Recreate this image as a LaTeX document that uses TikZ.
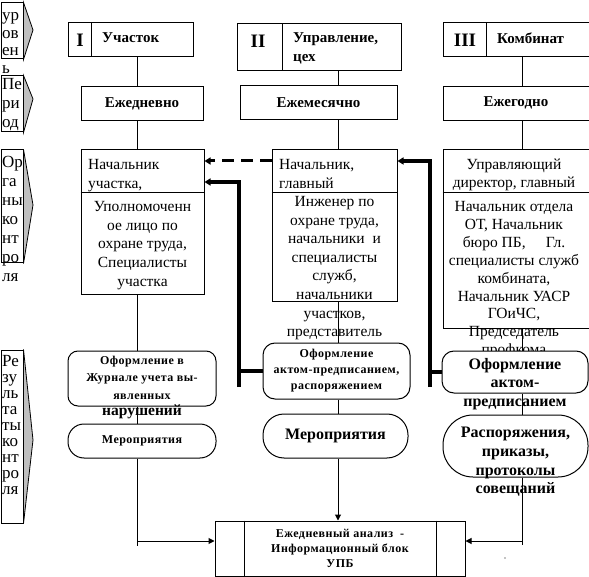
\documentclass[tikz,border=0pt]{standalone}
\usepackage{fontspec}
\setmainfont{Liberation Serif}
\newfontfamily\spb[LetterSpace=4]{Liberation Serif}
\usetikzlibrary{arrows.meta}
\newcommand{\fst}{\rule{0pt}{0.7em}}
\tikzset{
  box/.style={draw, line width=1pt, fill=white, inner sep=0pt},
  rbox/.style={draw, line width=1pt, fill=white, inner sep=0pt, rounded corners=#1},
  tri/.style={draw, line width=0.8pt, fill=black!25},
  lvtxt/.style={anchor=north west, align=left, inner sep=0pt},
  btxt/.style={anchor=north, align=center, inner sep=0pt},
  hdr/.style={inner sep=0pt, font=\bfseries\fontsize{15}{19}\selectfont},
  roman/.style={inner sep=0pt, font=\bfseries\fontsize{19}{19}\selectfont},
  conn/.style={line width=1pt},
  tip/.style={-{Triangle[length=6pt,width=6pt]}},
  thk/.style={line width=3.5pt},
  thktip/.style={-{Triangle[length=6pt,width=7pt]}},
}
\begin{document}
\begin{tikzpicture}[x=1pt,y=-1pt]
\clip (0,0) rectangle (589,577);
\fill[white] (0,0) rectangle (589,577);

% ---------- level markers ----------
\node[box, minimum width=22pt, minimum height=56pt] (lv1) at (12,31) {};
\filldraw[tri] (lv1.north east) -- (33,30) -- (lv1.south east) -- cycle;
\node[lvtxt, font=\fontsize{17}{17.5}\selectfont] (lv1t) at (2,8.5) {\fst ур\\ов\\ен\\ь};

\node[box, minimum width=22pt, minimum height=56pt] (lv2) at (12,104) {};
\filldraw[tri] (lv2.north east) -- (33,99) -- (lv2.south east) -- cycle;
\node[lvtxt, font=\fontsize{17}{19}\selectfont] (lv2t) at (2,77.5) {\fst Пе\\ри\\од};

\node[box, minimum width=22pt, minimum height=113pt] (lv3) at (12,206.5) {};
\filldraw[tri] (lv3.north east) -- (33,205) -- (lv3.south east) -- cycle;
\node[lvtxt, font=\fontsize{17}{19}\selectfont] (lv3t) at (2,155.5) {\fst Ор\\га\\ны\\ко\\нт\\ро\\ля};

\node[box, minimum width=22pt, minimum height=173pt] (lv4) at (12,436.5) {};
\filldraw[tri] (lv4.north east) -- (33,440) -- (lv4.south east) -- cycle;
\node[lvtxt, font=\fontsize{17}{16}\selectfont] (lv4t) at (2,354.5) {\fst Ре\\зу\\ль\\та\\ты\\ко\\нт\\ро\\ля};

% ---------- column headers ----------
\node[box, minimum width=125pt, minimum height=34pt] (hI) at (130.5,40) {};
\draw[conn] ([xshift=24pt]hI.north west) -- ([xshift=24pt]hI.south west);
\node[roman] (hIn) at (80,40) {I};
\node[hdr, anchor=west] (hIt) at (102,38) {Участок};

\node[box, minimum width=164pt, minimum height=47pt] (hII) at (319,47.5) {};
\draw[conn] ([xshift=46pt]hII.north west) -- ([xshift=46pt]hII.south west);
\node[roman] (hIIn) at (258,41) {II};
\node[hdr, lvtxt] (hIIt) at (293,31.7) {\fst Управление,\\цех};

\node[box, minimum width=157pt, minimum height=34pt] (hIII) at (521.5,40) {};
\draw[conn] ([xshift=44pt]hIII.north west) -- ([xshift=44pt]hIII.south west);
\node[roman] (hIIIn) at (465,40) {III};
\node[hdr, anchor=west] (hIIIt) at (497,38) {Комбинат};

% ---------- period boxes ----------
\node[box, hdr, minimum width=122pt, minimum height=34pt] (dI) at (142,104) {Ежедневно};
\node[box, hdr, minimum width=157pt, minimum height=34pt] (dII) at (318.5,103) {Ежемесячно};
\node[box, minimum width=157pt, minimum height=34pt] (dIII) at (521.5,104) {};
\node[hdr] (dIIIt) at (516,103) {Ежегодно};

% ---------- control bodies ----------
\node[box, minimum width=123pt, minimum height=145pt] (r3a) at (142.5,222.5) {};
\draw[conn] ([yshift=-43pt]r3a.north west) -- ([yshift=-43pt]r3a.north east);
\node[lvtxt, font=\fontsize{15.5}{18.5}\selectfont] (r3au) at (88,158.5) {\fst Начальник\\участка,};
\node[btxt, font=\fontsize{15.5}{18.7}\selectfont] (r3al) at (142.5,200.5)
  {\fst Уполномоченн\\ое лицо по\\охране труда,\\Специалисты\\участка};

\node[box, minimum width=125pt, minimum height=152pt] (r3b) at (334.5,226) {};
\draw[conn] ([yshift=-43pt]r3b.north west) -- ([yshift=-43pt]r3b.north east);
\node[lvtxt, font=\fontsize{15.5}{18.5}\selectfont] (r3bu) at (279,158.5) {\fst Начальник,\\главный};
\node[btxt, font=\fontsize{15.5}{18.6}\selectfont] (r3bl) at (334.5,195.5)
  {\fst Инженер по\\охране труда,\\начальники\ \ и\\специалисты\\служб,\\начальники\\участков,\\представитель};

\node[box, minimum width=157pt, minimum height=179pt] (r3c) at (521.5,239.5) {};
\draw[conn] ([yshift=-43pt]r3c.north west) -- ([yshift=-43pt]r3c.north east);
\node[btxt, font=\fontsize{15.5}{17.5}\selectfont] (r3cu) at (514,158.5) {\fst Управляющий\\директор, главный};
\node[btxt, font=\fontsize{15.5}{17.9}\selectfont] (r3cl) at (514,200.5)
  {\fst Начальник отдела\\ОТ, Начальник\\бюро ПБ,\hspace{1.3em}Гл.\\специалисты служб\\комбината,\\Начальник УАСР\\ГОиЧС,\\Председатель\\профкома};

% ---------- vertical connectors ----------
\coordinate (cI) at (137,0);
\coordinate (cII) at (338,0);
\coordinate (cIII) at (522,0);
\coordinate (jI) at (137,546);
\coordinate (jIII) at (522,545);

% ---------- results ----------
\node[rbox=10pt, minimum width=148pt, minimum height=55pt] (res1) at (142,378.5) {};
\node[rbox=16pt, minimum width=148pt, minimum height=34pt,
      font=\spb\bfseries\fontsize{12}{15}\selectfont] (mer1) at (142,441) {Мероприятия};
\node[rbox=12pt, minimum width=147pt, minimum height=56pt, align=center,
      font=\spb\bfseries\fontsize{12}{16}\selectfont] (res2) at (336.5,371)
      {Оформление\\актом-предписанием,\\распоряжением};
\node[rbox=21pt, minimum width=145pt, minimum height=44pt,
      font=\bfseries\fontsize{16}{18}\selectfont] (mer2) at (335.5,436) {Мероприятия};
\node[rbox=12pt, minimum width=146pt, minimum height=42pt] (res3) at (515,372) {};
\node[rbox=30pt, minimum width=145pt, minimum height=62pt] (ras) at (515.5,446) {};

\node[box, minimum width=250pt, minimum height=55.5pt, align=center,
      font=\spb\bfseries\fontsize{12}{15}\selectfont] (bot) at (340,548.75)
      {Ежедневный анализ\ \ -\\Информационный блок\\УПБ};
\draw[conn] ([xshift=30pt]bot.north west) -- ([xshift=30pt]bot.south west);
\draw[conn] ([xshift=-29pt]bot.north east) -- ([xshift=-29pt]bot.south east);

% column I
\draw[conn] (cI |- hI.south) -- (cI |- dI.north);
\draw[conn] (cI |- dI.south) -- (cI |- r3a.north);
\draw[conn] (cI |- r3a.south) -- (cI |- res1.north);
\draw[conn] (cI |- res1.south) -- (cI |- mer1.north);
\draw[conn] (cI |- mer1.south) -- (jI);
\draw[conn, tip] ([yshift=5pt]jI) -- ([yshift=7.75pt]bot.west);
% column II
\draw[conn] (cII |- hII.south) -- (cII |- dII.north);
\draw[conn] (cII |- dII.south) -- (cII |- r3b.north);
\draw[conn] (cII |- r3b.south) -- (cII |- res2.north);
\draw[conn] (cII |- res2.south) -- (cII |- mer2.north);
\draw[conn, tip] (cII |- mer2.south) -- (cII |- bot.north);
% column III
\draw[conn] (cIII |- hIII.south) -- (cIII |- dIII.north);
\draw[conn] (cIII |- dIII.south) -- (cIII |- r3c.north);
\draw[conn] (cIII |- r3c.south) -- (cIII |- res3.north);
\draw[conn] (cIII |- res3.south) -- (cIII |- ras.north);
\draw[conn] (cIII |- ras.south) -- (jIII);
\draw[conn, tip] ([yshift=4pt]jIII) -- ([yshift=7.75pt]bot.east);

% ---------- result texts (overflowing) ----------
\node[btxt, font=\spb\bfseries\fontsize{12}{17.5}\selectfont] (res1t) at (142,355.5)
  {\fst Оформление в\\Журнале учета вы-\\явленных};
\node[inner sep=0pt, font=\bfseries\fontsize{15.5}{17}\selectfont] (res1t2) at (142,412) {нарушений};
\node[btxt, font=\bfseries\fontsize{16}{18.3}\selectfont] (res3t) at (515,358)
  {\fst Оформление\\актом-\\предписанием};
\node[btxt, font=\bfseries\fontsize{16}{18.7}\selectfont] (rast) at (515.5,426.3)
  {\fst Распоряжения,\\приказы,\\протоколы\\совещаний};

% ---------- feedback arrows ----------
\coordinate (fbA) at (239,387);
\coordinate (fbAt) at (239,182);
\coordinate (fbB) at (430,387);
\coordinate (fbBt) at (430,161);
\coordinate (dsh) at (0,161);
\draw[thk] (res2.west) -- (fbA |- res2.west);
\draw[thk, thktip] (fbA) -- (fbAt) -- (r3a.east |- fbAt);
\draw[thk] (res3.west) -- (fbB |- res3.west);
\draw[thk, thktip] (fbB) -- (fbBt) -- (r3b.east |- fbBt);
\draw[line width=3pt, dash pattern=on 12pt off 7pt, thktip] (r3b.west |- dsh) -- (r3a.east |- dsh);

\fill (505,558) circle (0.7pt);
\end{tikzpicture}
\end{document}
